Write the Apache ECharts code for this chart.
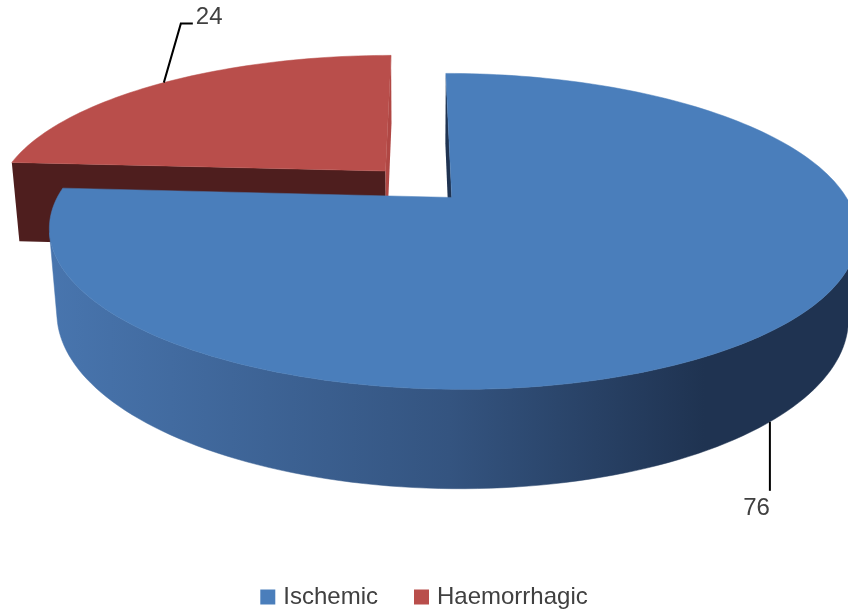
<!DOCTYPE html>
<html>
<head>
<meta charset="utf-8">
<style>
  html, body { margin: 0; padding: 0; background: #fff; }
  #chart { width: 848px; height: 610px; }
</style>
<script src="https://cdn.jsdelivr.net/npm/echarts@6/dist/echarts.min.js"></script>
</head>
<body>
<div id="chart"></div>
<script>
// data
const categories = ['Ischemic', 'Haemorrhagic'];
const values = [76, 24];

// colours per slice
const topColors = ['#4a7ebb', '#b94e4b'];
const wallLight = ['#4875ae', '#a0403d'];
const wallDark = ['#1f3351', '#4e1e1e'];
const faceLit = ['#3d6aa0', '#b04744'];

const total = values.reduce((a, b) => a + b, 0);

// simple perspective view of a tilted disc (units of radius)
const view = {
  cx: 418, cy: 184, scale: 387, rho: 0.227,
  tilt: 22 * Math.PI / 180, height: 0.23, explode: 0.125
};

function project(X, Y, Z) {
  const s = Math.sin(view.tilt), c = Math.cos(view.tilt);
  const yc = Y * c + Z * s;
  const zc = 1 + view.rho * (Z * c - Y * s);
  return [view.cx + view.scale * X / zc, view.cy - view.scale * yc / zc];
}

function area(pts) {
  let a = 0;
  for (let i = 0; i < pts.length; i++) {
    const p = pts[i], q = pts[(i + 1) % pts.length];
    a += p[0] * q[1] - q[0] * p[1];
  }
  return a;
}

function sliceAngles(i) {
  let start = 0;
  for (let k = 0; k < i; k++) start += values[k];
  const a0 = start / total * 2 * Math.PI;
  const a1 = (start + values[i]) / total * 2 * Math.PI;
  return [a0, a1, (a0 + a1) / 2];
}

function makeRender(i) {
  return function (params, api) {
    const [a0, a1, mid] = sliceAngles(i);
    const ox = view.explode * Math.sin(mid), oz = view.explode * Math.cos(mid);
    const h = view.height;
    const N = Math.max(8, Math.ceil((a1 - a0) / (Math.PI / 120)));
    const tops = [], bots = [];
    for (let k = 0; k <= N; k++) {
      const a = a0 + (a1 - a0) * k / N;
      const X = ox + Math.sin(a), Z = oz + Math.cos(a);
      tops.push(project(X, 0, Z));
      bots.push(project(X, -h, Z));
    }
    const ct = project(ox, 0, oz), cb = project(ox, -h, oz);
    const children = [];

    // cut faces
    const faces = [
      { pts: [ct, tops[0], bots[0], cb], nx: -Math.cos(a0) },
      { pts: [tops[N], ct, cb, bots[N]], nx: Math.cos(a1) }
    ];
    faces.forEach(f => {
      if (area(f.pts) < 0) {
        children.push({
          type: 'polygon', shape: { points: f.pts },
          style: { fill: f.nx > 0.5 ? faceLit[i] : wallDark[i], stroke: null }
        });
      }
    });

    // outer wall, visible runs only
    const grad = new echarts.graphic.LinearGradient(50, 0, 848, 0, [
      { offset: 0, color: wallLight[i] },
      { offset: 0.5, color: echarts.color.lerp(0.5, [wallLight[i], wallDark[i]]) },
      { offset: 0.82, color: wallDark[i] },
      { offset: 1, color: wallDark[i] }
    ], true);
    let run = null;
    const flush = () => {
      if (run && run.length > 1) {
        const pts = run.map(k => tops[k]).concat(run.slice().reverse().map(k => bots[k]));
        children.push({ type: 'polygon', shape: { points: pts }, style: { fill: grad, stroke: grad, lineWidth: 0.5 } });
      }
      run = null;
    };
    for (let k = 0; k < N; k++) {
      const vis = area([tops[k], tops[k + 1], bots[k + 1], bots[k]]) < 0;
      if (vis) {
        if (!run) run = [k];
        run.push(k + 1);
      } else flush();
    }
    flush();

    // top
    children.push({
      type: 'polygon', shape: { points: [ct].concat(tops) },
      style: { fill: topColors[i], stroke: topColors[i], lineWidth: 0.5 }
    });

    // leader line and value label
    const mx = ox + Math.sin(mid), mz = oz + Math.cos(mid);
    const front = Math.cos(mid) < 0;
    const lineStyle = { stroke: '#000', lineWidth: 2, fill: null };
    const font = { fill: '#404040', fontSize: 24, fontFamily: 'Liberation Sans' };
    if (front) {
      const p = project(mx, -h, mz);
      children.push({ type: 'polyline', shape: { points: [p, [p[0], p[1] + 69]] }, style: lineStyle });
      children.push({ type: 'text', style: Object.assign({ text: String(api.value(0)), x: p[0], y: p[1] + 87, align: 'right', verticalAlign: 'middle' }, font) });
    } else {
      const p = project(mx, 0, mz);
      children.push({ type: 'polyline', shape: { points: [p, [p[0] + 17, p[1] - 59], [p[0] + 29, p[1] - 59]] }, style: lineStyle });
      children.push({ type: 'text', style: Object.assign({ text: String(api.value(0)), x: p[0] + 32, y: p[1] - 65, align: 'left', verticalAlign: 'middle' }, font) });
    }
    return { type: 'group', children: children };
  };
}

// farther slices first
const order = categories.map((c, i) => i).sort((a, b) => Math.cos(sliceAngles(b)[2]) - Math.cos(sliceAngles(a)[2]));

const series = order.map((i, rank) => ({
  name: categories[i],
  type: 'custom',
  coordinateSystem: 'none',
  z: 2 + rank,
  silent: true,
  itemStyle: { color: topColors[i] },
  renderItem: makeRender(i),
  data: [[values[i]]]
}));

const chart = echarts.init(document.getElementById('chart'));
chart.setOption({
  animation: false,
  legend: {
    data: categories,
    left: 'center',
    top: 580,
    icon: 'rect',
    itemWidth: 15,
    itemHeight: 15,
    itemGap: 36,
    selectedMode: false,
    textStyle: { fontSize: 24, color: '#404040', fontFamily: 'Liberation Sans', padding: [0, 0, 0, 3] }
  },
  series: series
});
</script>
</body>
</html>
